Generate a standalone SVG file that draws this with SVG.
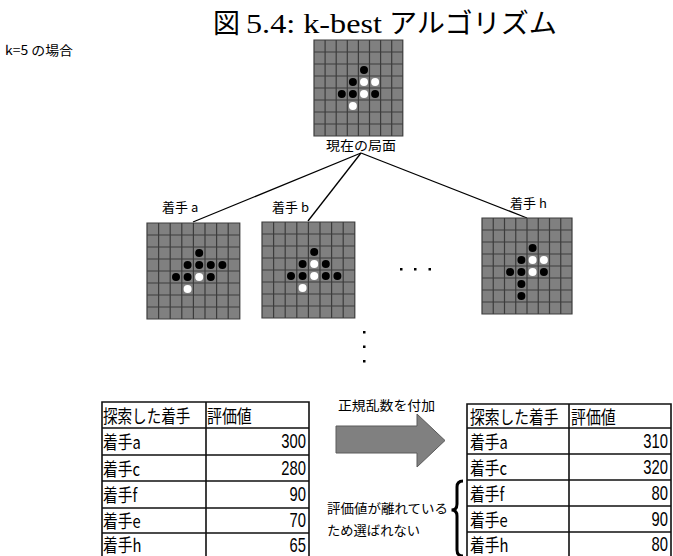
<svg xmlns="http://www.w3.org/2000/svg" xmlns:xlink="http://www.w3.org/1999/xlink" width="673" height="556" viewBox="0 0 673 556">
<style>
.jp{font-family:"Noto Sans CJK JP","Noto Sans",sans-serif;fill:#000}
.num{font-family:"Liberation Sans",Arial,sans-serif;fill:#000;font-size:20px;text-anchor:end}
.ser{font-family:"Liberation Serif","Times New Roman",serif;fill:#000}
.cell{font-size:18px}
.b{fill:#000}
.w{fill:#fff}
.tbl{fill:none;stroke:#111;stroke-width:1.6}
.conn{stroke:#000;stroke-width:1.3;fill:none}
</style>
<defs>
<g id="grid">
<rect x="0" y="0" width="88" height="96" fill="#808080"/>
<path d="M0,0H88V96H0Z M11,0V96 M22,0V96 M33,0V96 M44,0V96 M55,0V96 M66,0V96 M77,0V96 M0,12H88 M0,24H88 M0,36H88 M0,48H88 M0,60H88 M0,72H88 M0,84H88" fill="none" stroke="#3c3c3c" stroke-width="1.2" vector-effect="non-scaling-stroke"/>
</g>
</defs>

<text class="jp" x="213" y="33" font-size="27">図</text>
<text class="ser" x="246" y="33" font-size="28" textLength="136" lengthAdjust="spacingAndGlyphs">5.4: k-best</text>
<text class="jp" x="389" y="33" font-size="27" textLength="168" lengthAdjust="spacingAndGlyphs">アルゴリズム</text>

<text class="jp" x="5" y="55" font-size="13" textLength="68" lengthAdjust="spacingAndGlyphs">k=5 の場合</text>

<g id="connectors">
<line class="conn" x1="361" y1="153" x2="193" y2="222"/>
<line class="conn" x1="361" y1="153" x2="308" y2="221"/>
<line class="conn" x1="361" y1="153" x2="527" y2="218"/>
</g>

<g id="current">
<use xlink:href="#grid" transform="translate(314,40) scale(1.009,1)"/>
<circle class="b" cx="364" cy="70" r="4"/>
<circle class="b" cx="352.9" cy="82" r="4"/>
<circle class="w" cx="364" cy="82" r="4"/>
<circle class="w" cx="375.1" cy="82" r="4"/>
<circle class="b" cx="341.8" cy="94" r="4"/>
<circle class="b" cx="352.9" cy="94" r="4"/>
<circle class="w" cx="364" cy="94" r="4"/>
<circle class="b" cx="375.1" cy="94" r="4"/>
<circle class="w" cx="352.9" cy="106" r="4"/>
<text class="jp" x="326" y="150" font-size="13" textLength="70" lengthAdjust="spacingAndGlyphs">現在の局面</text>
</g>

<g id="move-a">
<text class="jp" x="162" y="212" font-size="13">着手 a</text>
<use xlink:href="#grid" transform="translate(147,223) scale(1.0545,1)"/>
<circle class="b" cx="199.2" cy="253" r="4"/>
<circle class="b" cx="187.6" cy="265" r="4"/>
<circle class="b" cx="199.2" cy="265" r="4"/>
<circle class="b" cx="210.8" cy="265" r="4"/>
<circle class="b" cx="222.4" cy="265" r="4"/>
<circle class="b" cx="176" cy="277" r="4"/>
<circle class="b" cx="187.6" cy="277" r="4"/>
<circle class="w" cx="199.2" cy="277" r="4"/>
<circle class="b" cx="210.8" cy="277" r="4"/>
<circle class="w" cx="187.6" cy="289" r="4"/>
</g>

<g id="move-b">
<text class="jp" x="272" y="212" font-size="13">着手 b</text>
<use xlink:href="#grid" transform="translate(262,222) scale(1.0545,1)"/>
<circle class="b" cx="314.2" cy="252" r="4"/>
<circle class="b" cx="302.6" cy="264" r="4"/>
<circle class="w" cx="314.2" cy="264" r="4"/>
<circle class="b" cx="325.8" cy="264" r="4"/>
<circle class="b" cx="291" cy="276" r="4"/>
<circle class="b" cx="302.6" cy="276" r="4"/>
<circle class="w" cx="314.2" cy="276" r="4"/>
<circle class="b" cx="325.8" cy="276" r="4"/>
<circle class="b" cx="337.4" cy="276" r="4"/>
<circle class="w" cx="302.6" cy="288" r="4"/>
</g>

<g id="move-h">
<text class="jp" x="510" y="208" font-size="13">着手 h</text>
<use xlink:href="#grid" transform="translate(482,218) scale(1.0227,1)"/>
<circle class="b" cx="532.6" cy="248" r="4"/>
<circle class="b" cx="521.4" cy="260" r="4"/>
<circle class="w" cx="532.6" cy="260" r="4"/>
<circle class="w" cx="543.9" cy="260" r="4"/>
<circle class="b" cx="510.1" cy="272" r="4"/>
<circle class="b" cx="521.4" cy="272" r="4"/>
<circle class="w" cx="532.6" cy="272" r="4"/>
<circle class="b" cx="543.9" cy="272" r="4"/>
<circle class="b" cx="521.4" cy="284" r="4"/>
<circle class="b" cx="521.4" cy="296" r="4"/>
</g>

<g id="ellipsis" fill="#000">
<rect x="400" y="268" width="2.5" height="2.5"/>
<rect x="414" y="268" width="2.5" height="2.5"/>
<rect x="428.5" y="268" width="2.5" height="2.5"/>
<rect x="363" y="331" width="2.5" height="2.5"/>
<rect x="363" y="345.5" width="2.5" height="2.5"/>
<rect x="363" y="360" width="2.5" height="2.5"/>
</g>

<g id="table-before">
<path class="tbl" d="M102,402H309V559H102Z M206,402V559 M102,428H309 M102,455H309 M102,481H309 M102,508H309 M102,533H309"/>
<text class="jp cell" transform="translate(103,423) scale(0.81,1)">探索した着手</text>
<text class="jp cell" transform="translate(207,423) scale(0.83,1)">評価値</text>
<text class="jp cell" transform="translate(103,449) scale(0.82,1)">着手a</text>
<text class="jp cell" transform="translate(103,476) scale(0.82,1)">着手c</text>
<text class="jp cell" transform="translate(103,502) scale(0.82,1)">着手f</text>
<text class="jp cell" transform="translate(103,528) scale(0.82,1)">着手e</text>
<text class="jp cell" transform="translate(103,552) scale(0.82,1)">着手h</text>
<text class="num" transform="translate(306,448) scale(0.74,1)">300</text>
<text class="num" transform="translate(306,475) scale(0.74,1)">280</text>
<text class="num" transform="translate(306,501) scale(0.74,1)">90</text>
<text class="num" transform="translate(306,527) scale(0.74,1)">70</text>
<text class="num" transform="translate(306,552) scale(0.74,1)">65</text>
</g>

<g id="arrow">
<polygon points="336,426 417,426 417,414 445,440.5 417,467 417,453 336,453" fill="#808080" stroke="#5a5a5a" stroke-width="1"/>
<text class="jp" x="338" y="410" font-size="13" textLength="97" lengthAdjust="spacingAndGlyphs">正規乱数を付加</text>
</g>

<g id="note">
<text class="jp" x="327" y="513" font-size="13" textLength="121" lengthAdjust="spacingAndGlyphs">評価値が離れている</text>
<text class="jp" x="327" y="535" font-size="13" textLength="93" lengthAdjust="spacingAndGlyphs">ため選ばれない</text>
<path d="M463,481 Q457,481 457,487 L457,504 Q457,510 451.5,510 Q457,510 457,516 L457,550 Q457,556 463,556" fill="none" stroke="#000" stroke-width="3"/>
</g>

<g id="table-after">
<path class="tbl" d="M467,404H671V558H467Z M569,404V558 M467,428H671 M467,454H671 M467,480H671 M467,506H671 M467,532H671"/>
<text class="jp cell" transform="translate(470,424) scale(0.82,1)">探索した着手</text>
<text class="jp cell" transform="translate(571,424) scale(0.83,1)">評価値</text>
<text class="jp cell" transform="translate(470,449) scale(0.82,1)">着手a</text>
<text class="jp cell" transform="translate(470,475) scale(0.82,1)">着手c</text>
<text class="jp cell" transform="translate(470,501) scale(0.82,1)">着手f</text>
<text class="jp cell" transform="translate(470,527) scale(0.82,1)">着手e</text>
<text class="jp cell" transform="translate(470,552) scale(0.82,1)">着手h</text>
<text class="num" transform="translate(668,448) scale(0.74,1)">310</text>
<text class="num" transform="translate(668,474) scale(0.74,1)">320</text>
<text class="num" transform="translate(668,500) scale(0.74,1)">80</text>
<text class="num" transform="translate(668,526) scale(0.74,1)">90</text>
<text class="num" transform="translate(668,551) scale(0.74,1)">80</text>
</g>
</svg>
